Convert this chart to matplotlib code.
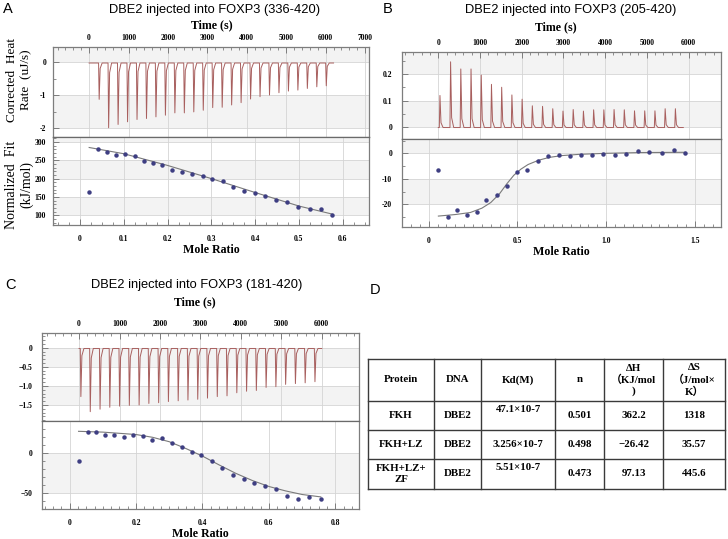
import matplotlib
matplotlib.use("Agg")
import matplotlib.pyplot as plt
from matplotlib.ticker import MultipleLocator

# ---------------- data ----------------
# Panel A : DBE2 into FOXP3 (336-420)
a_inj_time = [240, 480, 720, 960, 1200, 1440, 1680, 1920, 2160, 2400, 2640, 2880, 3120,
              3360, 3600, 3840, 4080, 4320, 4560, 4800, 5040, 5280, 5520, 5760, 6000]
a_inj_peak = [-1.13, -1.99, -1.89, -1.81, -1.74, -1.71, -1.66, -1.61, -1.54, -1.54, -1.51,
              -1.46, -1.38, -1.37, -1.30, -1.23, -1.12, -1.05, -1.00, -0.93, -0.88, -0.85,
              -0.80, -0.75, -0.72]
a_mole = [0.021, 0.041, 0.062, 0.083, 0.103, 0.125, 0.147, 0.167, 0.188, 0.211, 0.234,
          0.256, 0.280, 0.302, 0.326, 0.350, 0.375, 0.399, 0.423, 0.448, 0.473, 0.499,
          0.525, 0.551, 0.576]
a_heat = [162.7, 280.9, 272.7, 265.5, 267.3, 260.9, 248.2, 241.8, 237.3, 222.7, 218.2,
          212.7, 207.3, 199.1, 192.7, 177.3, 167.3, 160.9, 151.8, 141.8, 135.5, 122.7,
          118.2, 117.3, 100.0]
a_fit_x = [0.021, 0.1, 0.2, 0.3, 0.4, 0.5, 0.576]
a_fit_y = [285, 268, 236, 200, 162, 125, 103]
a_time_ticks = [0, 1000, 2000, 3000, 4000, 5000, 6000, 7000]
a_time_labels = ["0", "1000", "2000", "3000", "4000", "5000", "6000", "7000"]
a_rate_ticks = [0, -1, -2]
a_rate_labels = ["0", "-1", "-2"]
a_fit_ticks = [100, 150, 200, 250, 300]
a_fit_labels = ["100", "150", "200", "250", "300"]
a_mole_ticks = [0, 0.1, 0.2, 0.3, 0.4, 0.5, 0.6]
a_mole_labels = ["0", "0.1", "0.2", "0.3", "0.4", "0.5", "0.6"]

# Panel B : DBE2 into FOXP3 (205-420)
b_inj_time = [25, 280, 525, 770, 1015, 1260, 1505, 1750, 1995, 2240, 2485, 2730, 2975,
              3220, 3465, 3710, 3955, 4200, 4445, 4690, 4935, 5180, 5425, 5670]
b_inj_peak = [0.119, 0.246, 0.219, 0.219, 0.196, 0.161, 0.150, 0.121, 0.105, 0.080, 0.078,
              0.069, 0.060, 0.066, 0.060, 0.065, 0.065, 0.066, 0.065, 0.061, 0.061, 0.061,
              0.069, 0.069]
b_mole = [0.055, 0.108, 0.161, 0.216, 0.271, 0.326, 0.383, 0.439, 0.498, 0.555, 0.617,
          0.674, 0.737, 0.795, 0.858, 0.920, 0.985, 1.049, 1.114, 1.178, 1.244, 1.312,
          1.381, 1.447]
b_heat = [-6.4, -24.9, -22.1, -24.3, -23.0, -18.4, -16.5, -12.9, -7.5, -6.6, -2.9, -1.2,
          -0.6, -1.2, -0.6, -0.5, -0.4, -0.5, -0.4, 1.0, 0.6, 0.3, 1.3, 0.0]
b_fit_x = [0.055, 0.15, 0.235, 0.30, 0.35, 0.40, 0.44, 0.48, 0.52, 0.56, 0.62, 0.68,
           0.75, 0.85, 1.0, 1.2, 1.447]
b_fit_y = [-24.6, -24.0, -23.2, -21.5, -19.3, -15.8, -12.0, -8.6, -6.2, -4.4, -2.7, -1.6,
           -0.9, -0.4, 0.0, 0.3, 0.4]
b_time_ticks = [0, 1000, 2000, 3000, 4000, 5000, 6000]
b_time_labels = ["0", "1000", "2000", "3000", "4000", "5000", "6000"]
b_rate_ticks = [0, 0.1, 0.2]
b_rate_labels = ["0", "0.1", "0.2"]
b_fit_ticks = [-20, -10, 0]
b_fit_labels = ["-20", "-10", "0"]
b_mole_ticks = [0, 0.5, 1.0, 1.5]
b_mole_labels = ["0", "0.5", "1.0", "1.5"]

# Panel C : DBE2 into FOXP3 (181-420)
c_inj_time = [30, 262, 504, 745, 987, 1228, 1470, 1711, 1953, 2194, 2436, 2677, 2919,
              3160, 3402, 3643, 3885, 4126, 4368, 4609, 4851, 5092, 5334, 5575, 5817]
c_inj_peak = [-1.28, -1.675, -1.61, -1.56, -1.53, -1.51, -1.50, -1.46, -1.44, -1.41, -1.39,
              -1.37, -1.35, -1.32, -1.28, -1.26, -1.18, -1.14, -1.12, -1.04, -1.02, -0.96,
              -0.94, -0.92, -0.89]
c_mole = [0.027, 0.054, 0.081, 0.108, 0.135, 0.163, 0.191, 0.220, 0.248, 0.277, 0.307,
          0.337, 0.367, 0.397, 0.429, 0.460, 0.492, 0.524, 0.556, 0.588, 0.621, 0.654,
          0.688, 0.722, 0.756]
c_heat = [-10.0, 27.1, 27.1, 23.3, 23.3, 20.0, 22.5, 21.7, 17.1, 19.2, 13.3, 7.9, 1.25,
          -1.7, -9.2, -18.75, -26.7, -31.7, -37.5, -40.8, -45.0, -53.3, -56.7, -54.6, -57.1]
c_fit_x = [0.027, 0.1, 0.2, 0.25, 0.3, 0.35, 0.4, 0.45, 0.5, 0.55, 0.6, 0.65, 0.7, 0.756]
c_fit_y = [27.5, 26.5, 23.5, 20.0, 14.5, 6.0, -3.5, -14.5, -25.0, -34.0, -41.5, -47.0,
           -51.5, -54.5]
c_time_ticks = [0, 1000, 2000, 3000, 4000, 5000, 6000]
c_time_labels = ["0", "1000", "2000", "3000", "4000", "5000", "6000"]
c_rate_ticks = [0, -0.5, -1.0, -1.5]
c_rate_labels = ["0", "\u22120.5", "\u22121.0", "\u22121.5"]
c_fit_ticks = [-50, 0]
c_fit_labels = ["\u221250", "0"]
c_mole_ticks = [0, 0.2, 0.4, 0.6, 0.8]
c_mole_labels = ["0", "0.2", "0.4", "0.6", "0.8"]

# Panel D : table
table_header = ["Protein", "DNA", "Kd(M)", "n", "\u0394H\n\uff08KJ/mol\n)", "\u0394S\n\uff08J/mol\u00d7\nK\uff09"]
table_rows = [
    ["FKH", "DBE2", "47.1\u00d710-7", "0.501", "362.2", "1318"],
    ["FKH+LZ", "DBE2", "3.256\u00d710-7", "0.498", "\u221226.42", "35.57"],
    ["FKH+LZ+\nZF", "DBE2", "5.51\u00d710-7", "0.473", "97.13", "445.6"],
]

# ---------------- style ----------------
W, H = 728, 539
SERIF = ["Liberation Serif", "DejaVu Serif"]
SERIF_CJK = ["Liberation Serif", "Noto Sans CJK SC", "DejaVu Serif"]
SANS = ["Liberation Sans", "DejaVu Sans"]
BAND = "#f3f3f3"
GRID = "#d4d4d4"
SPINE = "#7d7d7d"
TRACE = "#a85f5e"
DOT = "#3e3e82"
FIT = "#7a7a7a"
TICK_FS = 5.5

plt.rcParams["font.family"] = SERIF

fig = plt.figure(figsize=(W / 100, H / 100), dpi=100)


def rect(l, t, r, b):
    return [l / W, 1 - b / H, (r - l) / W, (b - t) / H]


ov = fig.add_axes([0, 0, 1, 1])
ov.set_xlim(0, W)
ov.set_ylim(H, 0)
ov.axis("off")


def thermogram(times, peaks, base, t_end):
    t, y = [0.0], [base]
    for ti, pk in zip(times, peaks):
        t += [ti, ti + 15, ti + 40, ti + 90]
        y += [base, pk, base + 0.15 * (pk - base), base]
    t.append(t_end)
    y.append(base)
    return t, y


def frame(ax, xlim, ylim, bands, xgrid, ygrid):
    ax.set_xlim(*xlim)
    ax.set_ylim(*ylim)
    for lo, hi in bands:
        ax.axhspan(lo, hi, color=BAND, lw=0, zorder=0)
    for v in ygrid:
        ax.axhline(v, color=GRID, lw=0.6, zorder=0.5)
    for v in xgrid:
        ax.axvline(v, color=GRID, lw=0.6, zorder=0.5)
    for s in ax.spines.values():
        s.set_color(SPINE)
        s.set_linewidth(0.9)
    ax.tick_params(which="both", direction="in", color=SPINE)
    ax.tick_params(which="major", length=4, width=0.7)
    ax.tick_params(which="minor", length=2.5, width=0.6)


def panel(box_l, box_r, top, mid, bot, t_lim, r_lim, f_lim, m_lim,
          t_ticks, t_labels, t_minor, r_ticks, r_labels, r_minor, r_bands,
          f_ticks, f_labels, f_minor, f_bands, m_ticks, m_labels, m_minor,
          inj_t, inj_p, base, t_end, mole, heat, fx, fy, ypad):
    up = fig.add_axes(rect(box_l, top, box_r, mid))
    frame(up, t_lim, r_lim, r_bands, t_ticks, r_ticks)
    up.xaxis.tick_top()
    up.set_xticks(t_ticks, t_labels, fontsize=TICK_FS, fontweight="bold")
    up.xaxis.set_minor_locator(MultipleLocator(t_minor))
    up.set_yticks(r_ticks, r_labels, fontsize=TICK_FS, fontweight="bold")
    up.yaxis.set_minor_locator(MultipleLocator(r_minor))
    up.tick_params(axis="x", which="major", pad=3.5)
    up.tick_params(axis="y", which="major", pad=ypad)
    tt, ty = thermogram(inj_t, inj_p, base, t_end)
    up.plot(tt, ty, color=TRACE, lw=0.7, zorder=3)

    lo = fig.add_axes(rect(box_l, mid, box_r, bot))
    frame(lo, m_lim, f_lim, f_bands, m_ticks, f_ticks)
    lo.set_xticks(m_ticks, m_labels, fontsize=TICK_FS, fontweight="bold")
    lo.xaxis.set_minor_locator(MultipleLocator(m_minor))
    lo.set_yticks(f_ticks, f_labels, fontsize=TICK_FS, fontweight="bold")
    lo.yaxis.set_minor_locator(MultipleLocator(f_minor))
    lo.tick_params(axis="x", which="major", pad=7)
    lo.tick_params(axis="y", which="major", pad=ypad)
    lo.spines["top"].set_color("#6a6a6a")
    lo.plot(fx, fy, color=FIT, lw=0.8, zorder=3)
    lo.plot(mole, heat, "o", ms=2.2, color=DOT, mec=DOT, zorder=4)
    return up, lo


# Panel A
panel(53, 369, 47, 137, 225, (-916, 7099), (-2.27, 0.4545), (73.2, 313.7), (-0.0616, 0.660),
      a_time_ticks, a_time_labels, 200, a_rate_ticks, a_rate_labels, 0.5,
      [(0, 0.4545), (-2, -1)],
      a_fit_ticks, a_fit_labels, 10, [(300, 313.7), (200, 250), (100, 150)],
      a_mole_ticks, a_mole_labels, 0.025,
      a_inj_time, a_inj_peak, -0.03, 6200, a_mole, a_heat, a_fit_x, a_fit_y, 5)

# Panel B
panel(402, 721, 52, 139.3, 227.3, (-870, 6779), (-0.0464, 0.283), (-29.0, 5.49), (-0.150, 1.647),
      b_time_ticks, b_time_labels, 200, b_rate_ticks, b_rate_labels, 0.05,
      [(0.2, 0.283), (0, 0.1)],
      b_fit_ticks, b_fit_labels, 5, [(0, 5.49), (-20, -10)],
      b_mole_ticks, b_mole_labels, 0.05,
      b_inj_time, b_inj_peak, -0.002, 5875, b_mole, b_heat, b_fit_x, b_fit_y, 7)

# Panel C
panel(42, 359, 333, 421, 509.3, (-916, 6921), (-1.919, 0.385), (-70, 40.4), (-0.083, 0.871),
      c_time_ticks, c_time_labels, 200, c_rate_ticks, c_rate_labels, 0.1,
      [(-0.5, 0), (-1.5, -1.0)],
      c_fit_ticks, c_fit_labels, 10, [(-50, 0)],
      c_mole_ticks, c_mole_labels, 0.025,
      c_inj_time, c_inj_peak, -0.02, 6000, c_mole, c_heat, c_fit_x, c_fit_y, 7)

# ---------------- free text ----------------
def txt(x, y, s, **kw):
    ov.text(x, y, s, ha=kw.pop("ha", "center"), va=kw.pop("va", "center"), **kw)


for x, y, s in [(3, 9, "A"), (383, 9, "B"), (5, 285, "C"), (370, 290, "D")]:
    txt(x, y, s, ha="left", fontsize=10.5, family=SANS)

txt(215, 10, "DBE2 injected into FOXP3 (336-420)", fontsize=9.3, family=SANS)
txt(571, 10, "DBE2 injected into FOXP3 (205-420)", fontsize=9.3, family=SANS)
txt(197, 285, "DBE2 injected into FOXP3 (181-420)", fontsize=9.3, family=SANS)

for x, y in [(212, 25), (556, 27), (195, 302)]:
    txt(x, y, "Time (s)", fontsize=8.6, fontweight="bold")
for x, y in [(211, 250), (561, 252), (200, 534)]:
    txt(x, y, "Mole Ratio", fontsize=8.6, fontweight="bold")

txt(19, 80, "Corrected  Heat\nRate  (uJ/s)", fontsize=9.5, rotation=90, linespacing=1.2)
txt(19, 185, "Normalized  Fit\n(kJ/mol)", fontsize=10, rotation=90, linespacing=1.2)

# ---------------- table ----------------
col_x = [368, 434, 481, 555, 604, 663, 725]
row_y = [359, 401, 430, 459, 489]
for x in col_x:
    ov.plot([x, x], [row_y[0], row_y[-1]], color="#3a3a3a", lw=1.0)
for y in row_y:
    ov.plot([col_x[0], col_x[-1]], [y, y], color="#3a3a3a", lw=1.0)

TFS = 7.8
for j, s in enumerate(table_header):
    cx = (col_x[j] + col_x[j + 1]) / 2
    cy = (row_y[0] + row_y[1]) / 2
    txt(cx, cy, s, fontsize=TFS, fontweight="bold", family=SERIF_CJK, linespacing=1.25)
for i, row in enumerate(table_rows):
    for j, s in enumerate(row):
        cx = (col_x[j] + col_x[j + 1]) / 2
        cy = (row_y[i + 1] + row_y[i + 2]) / 2
        if j == 2 and i != 1:
            cy = row_y[i + 1] + 9
        txt(cx, cy, s, fontsize=TFS, fontweight="bold", family=SERIF_CJK, linespacing=1.15)

fig.savefig("out.png", dpi=100)
